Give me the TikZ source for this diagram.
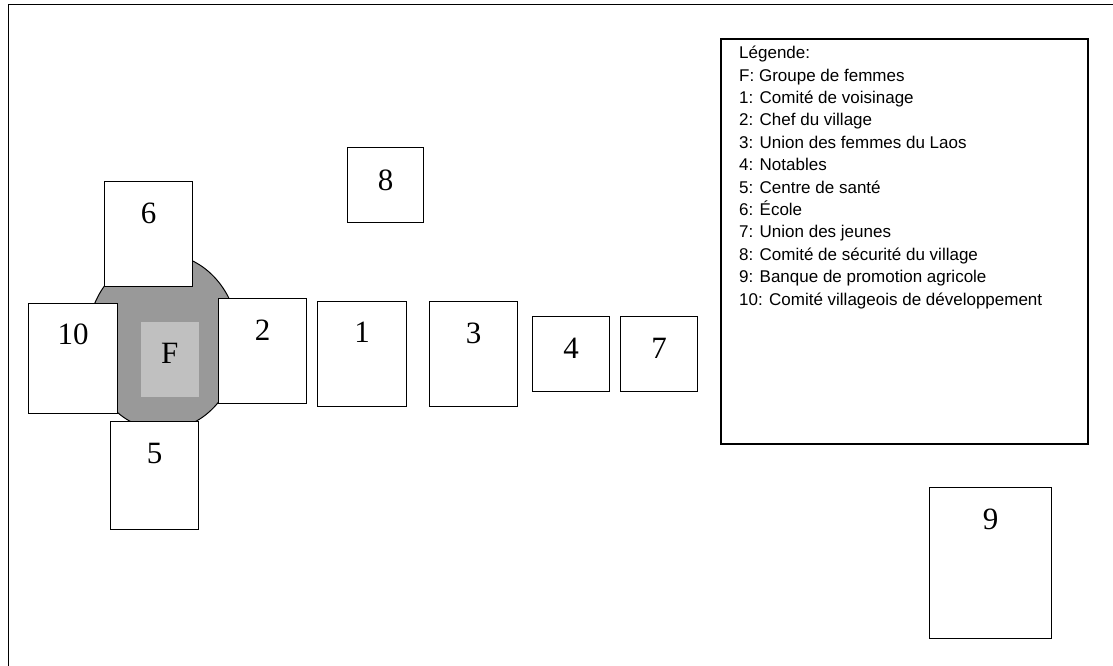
\documentclass[tikz,border=0pt]{standalone}
\usepackage{fontspec}
\setmainfont{Liberation Serif}
\newfontfamily\legendfont{Liberation Sans}
\usepackage{tikz}
\usetikzlibrary{positioning}
\definecolor{grpGray}{RGB}{153,153,153}
\definecolor{grpLight}{RGB}{192,192,192}
\tikzset{
    orgbox/.style={draw=black, line width=1.3pt, fill=white, inner sep=0pt,
                   anchor=north west},
    numlabel/.style={font=\fontsize{31}{31}\selectfont, inner sep=0pt},
    legendbox/.style={draw=black, line width=1.8pt, fill=white, inner sep=0pt,
                      anchor=north west, minimum width=367pt, minimum height=405pt},
    legendtext/.style={font=\legendfont\fontsize{17}{22.4}\selectfont, align=left,
                       inner sep=0pt, anchor=north west}
}

\begin{document}
\begin{tikzpicture}[x=1pt, y=-1pt]
  \useasboundingbox (0,0) rectangle (1113,666);
  % Frame
  \draw[line width=1.8pt] (1125,4.5) -- (8.5,4.5) -- (8.5,680);

  % Women's group in the middle
  \filldraw[fill=grpGray, draw=black, line width=1pt] (163,342) ellipse [x radius=76pt, y radius=88pt];
  \node[orgbox, draw=none, fill=grpLight, minimum width=58pt, minimum height=75pt] (fsq) at (140,321) {};
  \node[numlabel] (lf) at ([yshift=-32pt]fsq.north) {F};

  % Boxes around the group
  \node[orgbox, minimum width=88pt, minimum height=105pt] (b6) at (104,181) {};
  \node[orgbox, minimum width=89pt, minimum height=110pt] (b10) at (28,303) {};
  \node[orgbox, minimum width=88pt, minimum height=105pt] (b2) at (218,298) {};
  \node[orgbox, minimum width=88pt, minimum height=108pt] (b5) at (110,421) {};

  % Row to the right
  \node[orgbox, minimum width=89pt, minimum height=105pt] (b1) at (317,301) {};
  \node[orgbox, minimum width=88pt, minimum height=105pt] (b3) at (429,301) {};
  \node[orgbox, minimum width=77pt, minimum height=75pt] (b4) at (532,316) {};
  \node[orgbox, minimum width=77pt, minimum height=75pt] (b7) at (620,316) {};

  % Apart
  \node[orgbox, minimum width=76pt, minimum height=75pt] (b8) at (347,147) {};
  \node[orgbox, minimum width=122pt, minimum height=151pt] (b9) at (929,487) {};

  % Numbers
  \node[numlabel] (l6) at ([yshift=-32pt]b6.north) {6};
  \node[numlabel] (l10) at ([yshift=-31pt]b10.north) {10};
  \node[numlabel] (l2) at ([yshift=-32pt]b2.north) {2};
  \node[numlabel] (l5) at ([yshift=-32pt]b5.north) {5};
  \node[numlabel] (l1) at ([yshift=-31pt]b1.north) {1};
  \node[numlabel] (l3) at ([yshift=-32pt]b3.north) {3};
  \node[numlabel] (l4) at ([yshift=-32pt]b4.north) {4};
  \node[numlabel] (l7) at ([yshift=-32pt]b7.north) {7};
  \node[numlabel] (l8) at ([yshift=-33pt]b8.north) {8};
  \node[numlabel] (l9) at ([yshift=-32pt]b9.north) {9};

  % Legend
  \node[legendbox] (leg) at (720,38) {};
  \node[legendtext] (legtxt) at (739,46) {L\'egende:\\
    F: Groupe de femmes\\
    1: Comit\'e de voisinage\\
    2: Chef du village\\
    3: Union des femmes du Laos\\
    4: Notables\\
    5: Centre de sant\'e\\
    6: \'Ecole\\
    7: Union des jeunes\\
    8: Comit\'e de s\'ecurit\'e du village\\
    9: Banque de promotion agricole\\
    10: Comit\'e villageois de d\'eveloppement};
\end{tikzpicture}
\end{document}
